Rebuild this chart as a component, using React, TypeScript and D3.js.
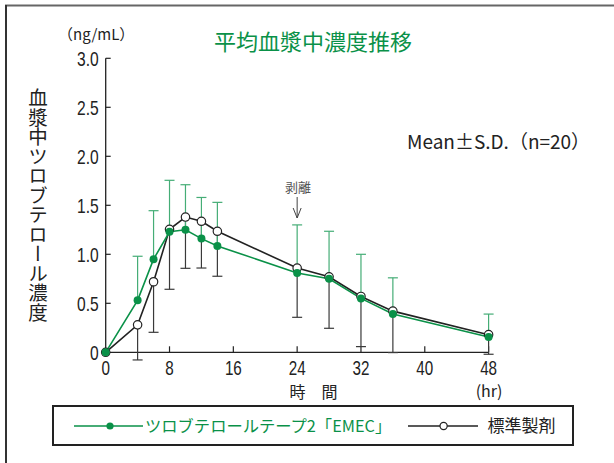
import React from "react";
import * as d3 from "d3";

const times = [0, 4, 6, 8, 10, 12, 14, 24, 28, 32, 36, 48];
const testMean = [0, 0.53, 0.95, 1.23, 1.25, 1.16, 1.085, 0.81, 0.75, 0.55, 0.39, 0.157];
const testSD = [0, 0.45, 0.495, 0.525, 0.46, 0.42, 0.445, 0.49, 0.485, 0.45, 0.37, 0.233];
const refMean = [0, 0.28, 0.72, 1.255, 1.38, 1.337, 1.235, 0.86, 0.77, 0.57, 0.42, 0.18];
const refSD = [0, 0.358, 0.516, 0.612, 0.523, 0.477, 0.459, 0.503, 0.525, 0.512, 0.423, 0.2];
const xTicks = [0, 8, 16, 24, 32, 40, 48];
const yTicks = [0, 0.5, 1.0, 1.5, 2.0, 2.5, 3.0];
const yTickLabels = ["0", "0.5", "1.0", "1.5", "2.0", "2.5", "3.0"];

const GREEN = "#0a9148";
const GREEN_BAR = "#45ad76";
const DARK = "#222";
const BAR_DARK = "#3a3a3a";
const CJK = "'Noto Sans CJK JP', 'Noto Sans', sans-serif";
const LATIN = "'Liberation Sans', Arial, sans-serif";

function NarrowText(props: { x: number; y: number; anchor: string; size?: number; children: any }) {
  return (
    <text
      transform={`translate(${props.x},${props.y}) scale(0.78,1)`}
      textAnchor={props.anchor}
      fontFamily={LATIN}
      fontSize={props.size || 20}
      fill={DARK}
    >
      {props.children}
    </text>
  );
}

export default function App() {
  const x = d3.scaleLinear().domain([0, 48]).range([105.7, 488.6]);
  const y = d3.scaleLinear().domain([0, 3]).range([352.3, 58.3]);
  const line = d3
    .line<number>()
    .x((_, i) => x(times[i]))
    .y((d) => y(d));
  const cap = 5;

  return (
    <svg width={614} height={463} style={{ position: "absolute", left: 0, top: 0, background: "#fff" }}>
      {/* frame */}
      <line x1={5} y1={5.5} x2={614} y2={5.5} stroke="#666" strokeWidth={2} />
      <line x1={6} y1={5} x2={6} y2={463} stroke="#333" strokeWidth={2} />

      {/* title */}
      <text x={313} y={49.5} textAnchor="middle" fontFamily={CJK} fontSize={22} fill={GREEN}>
        平均血漿中濃度推移
      </text>
      <text x={58} y={40} fontFamily={CJK} fontSize={15} fill={DARK}>
        （ng/mL）
      </text>

      {/* y-axis title vertical */}
      <text
        x={38}
        y={88}
        fontFamily={CJK}
        fontSize={19.5}
        fill={DARK}
        style={{ writingMode: "vertical-rl" as any }}
      >
        血漿中ツロブテロール濃度
      </text>

      {/* axes */}
      <line x1={x(0)} y1={y(3)} x2={x(0)} y2={y(0)} stroke={DARK} strokeWidth={1.3} />
      <line x1={x(0)} y1={y(0)} x2={x(48)} y2={y(0)} stroke={DARK} strokeWidth={1.3} />
      {yTicks.map((t, i) => (
        <g key={"yt" + i}>
          {t > 0 && <line x1={x(0)} y1={y(t)} x2={x(0) + 5} y2={y(t)} stroke={DARK} strokeWidth={1.2} />}
          <NarrowText x={98.7} y={y(t) + 7.2} anchor="end">
            {yTickLabels[i]}
          </NarrowText>
        </g>
      ))}
      {xTicks.map((t, i) => (
        <g key={"xt" + i}>
          {t > 0 && <line x1={x(t)} y1={y(0)} x2={x(t)} y2={y(0) - 6} stroke={DARK} strokeWidth={1.2} />}
          <NarrowText x={x(t)} y={374.5} anchor="middle" size={19.5}>
            {t}
          </NarrowText>
        </g>
      ))}
      <text x={313.5} y={397.5} textAnchor="middle" fontFamily={CJK} fontSize={16} fill={DARK}>
        時　間
      </text>
      <text x={489} y={397} textAnchor="middle" fontFamily={CJK} fontSize={16} fill={DARK}>
        (hr)
      </text>

      <text x={407} y={149} fontFamily={CJK} fontSize={19} fill={DARK}>
        Mean±S.D.（n=20）
      </text>

      {/* peel-off annotation */}
      <text x={298} y={192} textAnchor="middle" fontFamily={CJK} fontSize={13} fill="#555">
        剥離
      </text>
      <line x1={x(24)} y1={197} x2={x(24)} y2={218} stroke="#444" strokeWidth={1} />
      <polyline
        points={`${x(24) - 4},208 ${x(24)},218 ${x(24) + 4},208`}
        fill="none"
        stroke="#444"
        strokeWidth={1}
      />

      {/* reference lower error bars */}
      {times.map((t, i) =>
        refSD[i] > 0 ? (
          <g key={"rb" + i} stroke={BAR_DARK} strokeWidth={1.2}>
            <line x1={x(t)} y1={y(refMean[i])} x2={x(t)} y2={y(refMean[i] - refSD[i])} />
            <line x1={x(t) - cap} y1={y(refMean[i] - refSD[i])} x2={x(t) + cap} y2={y(refMean[i] - refSD[i])} />
          </g>
        ) : null
      )}
      {/* test upper error bars */}
      {times.map((t, i) =>
        testSD[i] > 0 ? (
          <g key={"tb" + i} stroke={GREEN_BAR} strokeWidth={1.2}>
            <line x1={x(t)} y1={y(testMean[i])} x2={x(t)} y2={y(testMean[i] + testSD[i])} />
            <line x1={x(t) - cap} y1={y(testMean[i] + testSD[i])} x2={x(t) + cap} y2={y(testMean[i] + testSD[i])} />
          </g>
        ) : null
      )}

      <path d={line(refMean) || ""} fill="none" stroke={DARK} strokeWidth={1.6} />
      <path d={line(testMean) || ""} fill="none" stroke={GREEN} strokeWidth={1.6} />

      {times.map((t, i) => (
        <circle key={"rc" + i} cx={x(t)} cy={y(refMean[i])} r={4.2} fill="#fff" stroke={DARK} strokeWidth={1.2} />
      ))}
      {times.map((t, i) => (
        <circle key={"tc" + i} cx={x(t)} cy={y(testMean[i])} r={4} fill={GREEN} />
      ))}

      {/* legend */}
      <rect x={53} y={406} width={520} height={39} fill="none" stroke={DARK} strokeWidth={2} />
      <line x1={74} y1={426} x2={143} y2={426} stroke={GREEN} strokeWidth={1.6} />
      <circle cx={110} cy={426} r={3.6} fill={GREEN} />
      <text x={145} y={432} fontFamily={CJK} fontSize={16.3} fill={GREEN}>
        ツロブテロールテープ2「EMEC」
      </text>
      <line x1={408} y1={426} x2={478} y2={426} stroke={DARK} strokeWidth={1.6} />
      <circle cx={443.6} cy={426} r={3.6} fill="#fff" stroke={DARK} strokeWidth={1.2} />
      <text x={487.5} y={432} fontFamily={CJK} fontSize={17} fill={DARK}>
        標準製剤
      </text>
    </svg>
  );
}
